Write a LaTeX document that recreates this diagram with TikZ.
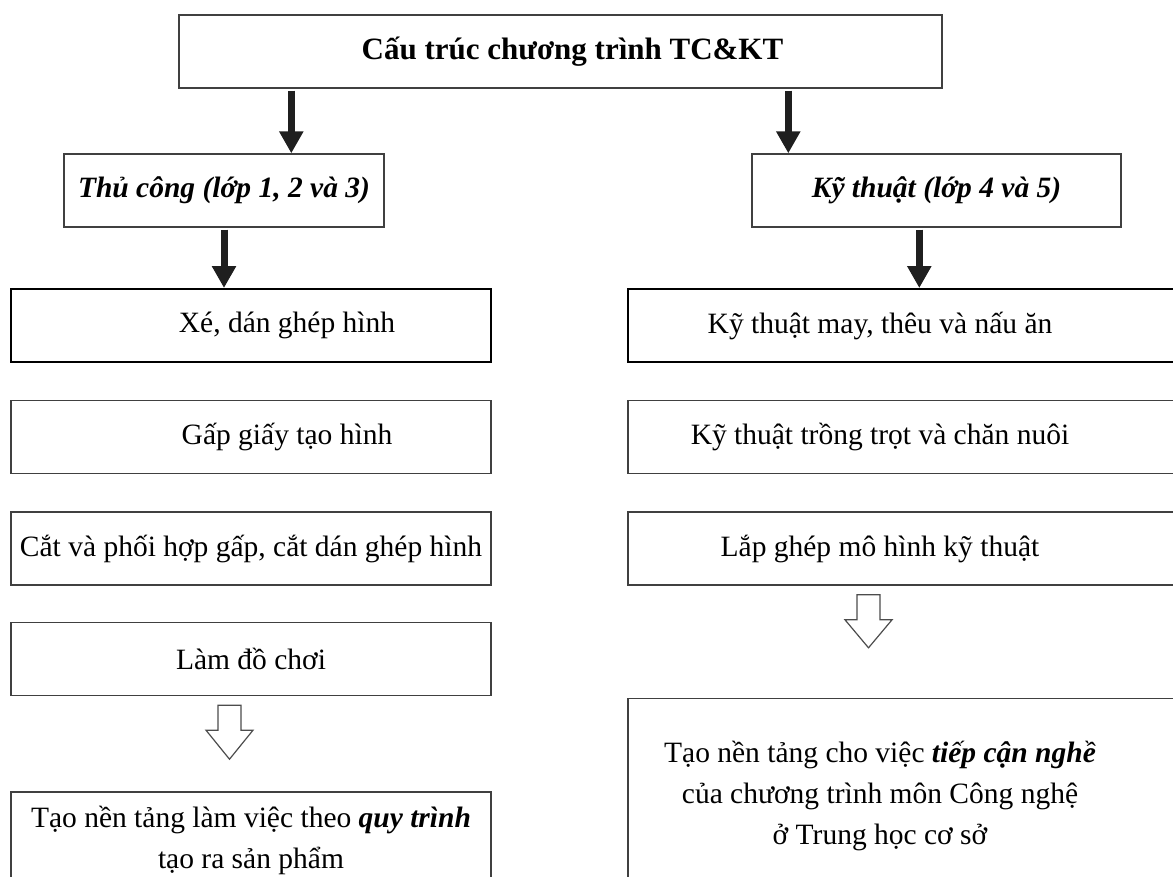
\documentclass[tikz,border=0pt]{standalone}
\usepackage{fontspec}
\setmainfont{Liberation Serif}
\usetikzlibrary{positioning,arrows.meta}

\newcommand{\chartfont}{\fontsize{29.5}{41}\selectfont}

\begin{document}
\begin{tikzpicture}[x=1pt, y=-1pt,
        headbox/.style={rectangle, draw=black!75, line width=1.4pt, minimum height=73pt, inner sep=0pt, font=\chartfont\bfseries\itshape},
        itembox/.style={rectangle, draw=black!75, line width=1.4pt, minimum width=480pt, minimum height=73pt, inner sep=0pt, font=\chartfont},
        widebox/.style={itembox, minimum width=562pt},
        firstbox/.style={draw=black, line width=2pt},
        downarrow/.style={-{Triangle[width=23pt,length=22pt]}, line width=7pt, black!88, shorten <=2pt},
        hollow/.style={draw=black!70, line width=1.2pt, line join=miter},
    ]
    \useasboundingbox (0,0) rectangle (1173,876);
    \clip (0,0) rectangle (1173,876);

    \node[headbox, minimum width=763pt, font=\fontsize{31}{41}\selectfont\bfseries] (top) at (560.5,51.5) {\hspace*{24pt}Cấu trúc chương trình TC\&KT};
    \node[headbox, minimum width=320pt] (thu) at (224,190.5)  {Thủ công (lớp 1, 2 và 3)};
    \node[headbox, minimum width=369pt] (kt)  at (936.5,190.5) {Kỹ thuật (lớp 4 và 5)};

    \node[itembox, firstbox] (x1) at (251,325.5)       {\hspace*{72pt}Xé, dán ghép hình};
    \node[itembox]           (x2) [below=37pt of x1]  {\hspace*{72pt}Gấp giấy tạo hình};
    \node[itembox]           (x3) [below=37pt of x2]  {Cắt và phối hợp gấp, cắt dán ghép hình};
    \node[itembox]           (x4) [below=36pt of x3]  {Làm đồ chơi};
    \node[itembox, minimum height=97pt, align=center] (tcout) [below=95pt of x4]
        {Tạo nền tảng làm việc theo \textbf{\textit{quy trình}}\\tạo ra sản phẩm};

    \node[widebox, firstbox] (k1) at (909,325.5)       {\hspace*{-58pt}Kỹ thuật may, thêu và nấu ăn};
    \node[widebox]           (k2) [below=37pt of k1]  {\hspace*{-58pt}Kỹ thuật trồng trọt và chăn nuôi};
    \node[widebox]           (k3) [below=37pt of k2]  {\hspace*{-58pt}Lắp ghép mô hình kỹ thuật};
    \node[widebox, minimum height=193pt] (ktout) [below=112pt of k3]
        {\hspace*{-58pt}\begin{tabular}{@{}c@{}}Tạo nền tảng cho việc \textbf{\textit{tiếp cận nghề}}\\của chương trình môn Công nghệ\\ở Trung học cơ sở\end{tabular}};

    % thick arrows
    \coordinate (kthole) at ([xshift=168pt]kt.south west);
    \draw[downarrow] ([xshift=113pt]top.south west) -- ([xshift=228pt]thu.north west);
    \draw[downarrow] ([xshift=610pt]top.south west) -- ([xshift=37pt]kt.north west);
    \draw[downarrow] (thu.south) -- (thu.south |- x1.north);
    \draw[downarrow] (kthole) -- (kthole |- k1.north);

    % hollow arrows
    \coordinate (lefthollow)  at ([xshift=-21.5pt,yshift=-9pt]x4.south);
    \coordinate (righthollow) at ([xshift=-40.5pt,yshift=-9pt]k3.south);
    \draw[hollow] (lefthollow) ++(-11.5,0) -- ++(0,25) -- ++(-12,0) -- ++(23.5,29) -- ++(23.5,-29) -- ++(-12,0) -- ++(0,-25) -- cycle;
    \draw[hollow] (righthollow) ++(-11.5,0) -- ++(0,25) -- ++(-12,0) -- ++(23.5,28) -- ++(23.5,-28) -- ++(-12,0) -- ++(0,-25) -- cycle;
\end{tikzpicture}
\end{document}
